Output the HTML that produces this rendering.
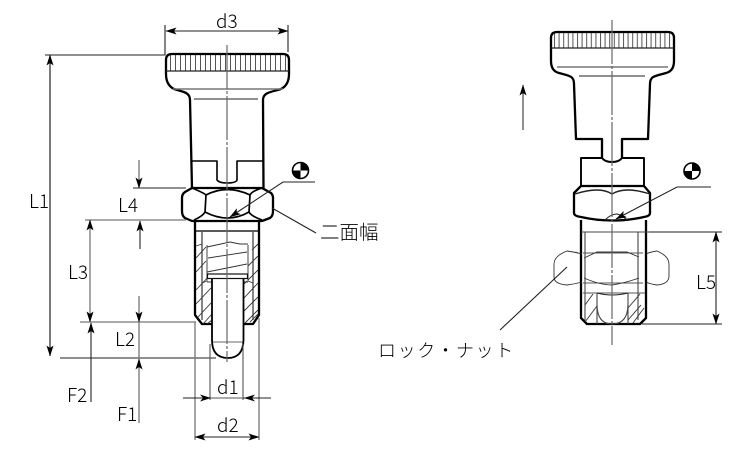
<!DOCTYPE html>
<html><head><meta charset="utf-8"><style>
html,body{margin:0;padding:0;background:#fff;width:750px;height:450px;overflow:hidden}
svg{display:block}
text{font-family:"Noto Sans CJK JP","Liberation Sans",sans-serif;font-size:19px;fill:#000;font-weight:300}
.k{fill:none;stroke:#000;stroke-width:2.3;stroke-linejoin:round}
.m{fill:none;stroke:#222;stroke-width:1.1}
.t{fill:none;stroke:#333;stroke-width:.9}
.g{fill:none;stroke:#777;stroke-width:1.3}
.c{fill:none;stroke:#666;stroke-width:1.2;stroke-dasharray:44 2 3 2}
.a{fill:#000;stroke:none}
</style></head><body>
<svg width="750" height="450" viewBox="0 0 750 450" xmlns="http://www.w3.org/2000/svg">
<defs>
<marker id="e" markerWidth="11" markerHeight="7" refX="10.5" refY="3.5" orient="auto-start-reverse" markerUnits="userSpaceOnUse"><path d="M0 0L11 3.5L0 7L2.5 3.5Z" fill="#000"/></marker>
<pattern id="kn" width="5" height="20" patternUnits="userSpaceOnUse"><rect x="0" width="1" height="20" fill="#555"/></pattern>
<pattern id="kn2" x="2" width="4.6" height="20" patternUnits="userSpaceOnUse"><rect x="0" width="1" height="20" fill="#555"/></pattern>
</defs>

<!-- LEFT VIEW -->
<rect x="167" y="55" width="121" height="16" fill="url(#kn)"/>
<path class="k" d="M172 54H283Q289 54 289 60V74Q289 85 281 89C272 92 263 92 263 100L263.500 188M172 54Q166 54 166 60V74Q166 85 174 89C183 92 190 92 190 100L192 188"/>
<path class="m" d="M166 71H289" style="stroke-width:1.300"/>
<path class="g" d="M173 89H283" style="stroke-width:1.400"/>
<path class="m" d="M194 99H258"/>
<path class="k" style="stroke-width:1.600" d="M192 161H217V180Q219 183 227 183Q236 183 237 180V161H263"/>
<!-- hex nut left -->
<path class="k" d="M192 188H262L271 193Q273 195 273 198V211Q273 216 270 218L262 221H192L185 218Q182 216 182 211V198Q182 194 185 192Z"/>
<path class="k" style="stroke-width:1.700" d="M192 188Q204 193 206 195L205 212Q203 216 194 220M262 188Q252 191 250 195L249 212Q251 216 262 220M206 195Q227 184 250 195M205 212Q228 224 249 212"/>
<!-- body left -->
<path class="k" d="M195 221V315L202 324H212M259 221V315L253 324H244"/>
<path class="m" d="M196 231H258" style="stroke-width:1.500"/>
<path class="m" d="M202 232V320M253 232V320"/>
<path class="t" d="M207 245V281L202 283M248 245V281L253 283M207 282H212M243 282H248"/>
<path class="t" d="M196 246L202 244M196 258L206 247M196 272L206 261M196 290L211 274M196 304L211 288M198 317L211 303M203 324L212 314M207 324L212 320M244 284L247 281M244 298L258 283M244 311L258 297M245 323L258 310M252 250L258 244M248 266L258 256M248 280L258 270M250 322L258 314"/>
<path class="t" d="M207 247L230 242L240 244L248 244M208 258L247 252M207 272L247 264"/>
<rect x="207.500" y="274" width="40" height="4.500" fill="#fff" stroke="#111" stroke-width="1.200"/>
<path class="k" d="M212 279V340Q212 358 228 358Q243 358 243.500 340V279" style="stroke-width:1.800"/>
<path class="t" d="M213 342H243" style="stroke-width:.8"/>
<path class="c" d="M227 45V362"/>
<!-- left dims -->
<path class="m" d="M165 25V55H45M288 25V52"/>
<path class="m" marker-start="url(#e)" marker-end="url(#e)" d="M166 31H288"/>
<path class="m" marker-start="url(#e)" marker-end="url(#e)" d="M50 55V356" style="stroke-width:1.200"/>
<path class="m" d="M60 358H216"/>
<path class="m" d="M133 188H186"/>
<path class="g" d="M85 220H186" />
<path class="g" d="M80 322H196"/>
<path class="g" marker-end="url(#e)" d="M139 160V188"/>
<path class="m" marker-end="url(#e)" d="M140 249V221"/>
<path class="g" marker-start="url(#e)" marker-end="url(#e)" d="M90 220V322"/>
<path class="g" marker-end="url(#e)" d="M139 296V322"/>
<path class="m" marker-end="url(#e)" d="M91 402V323"/>
<path class="g" d="M139 322V358"/>
<path class="g" marker-end="url(#e)" d="M139 423V359"/>
<path class="g" d="M195 322V440M259 318V440"/>
<path class="m" d="M210 344V400M243 344V400" style="stroke:#555"/>
<path class="g" d="M183 398H211M243 398H271" style="stroke:#222;stroke-width:1.100"/>
<path class="a" d="M211 398L200 394.500L203 398L200 401.500ZM244 398L255 394.500L252 398L255 401.500Z"/>
<path class="g" d="M211 398H243"/>
<path class="m" marker-start="url(#e)" marker-end="url(#e)" d="M195 437H259"/>
<text x="216" y="28">d3</text><text x="29" y="208">L1</text><text x="118" y="212">L4</text>
<text x="68" y="279">L3</text><text x="115" y="346">L2</text><text x="67" y="402">F2</text>
<text x="117" y="421">F1</text><text x="217" y="394">d1</text><text x="217" y="432">d2</text>
<!-- datum left -->
<circle cx="300.500" cy="170.500" r="8" fill="#fff" stroke="#000" stroke-width="1.600"/>
<path class="a" d="M300.500 162.500A8 8 0 0 1 308.500 170.500H300.500ZM300.500 170.500H292.500A8 8 0 0 0 300.500 178.500Z"/>
<path class="m" marker-end="url(#e)" d="M315 182H283L230 217"/>
<path class="m" d="M272 208L316 233"/>
<text x="320" y="239" style="font-size:19.500px">二面幅</text>

<!-- RIGHT VIEW -->
<rect x="552" y="33" width="121" height="15" fill="url(#kn2)"/>
<path class="k" d="M557 32H668Q674 32 674 38V61Q674 71 666 73C655 76 650 76 650 84L648 139H622V158M557 32Q551 32 551 38V61Q551 71 559 73C570 76 574 76 574 84L576 139H602V158"/>
<path class="m" d="M551 48H674" style="stroke-width:1.300"/>
<path class="g" d="M557 67H668" style="stroke-width:1.400"/>
<path class="m" d="M579 76H645"/>
<path class="k" style="stroke-width:1.900" d="M581 187V158H602Q605 162 612 162Q619 162 622 158H644V187"/>
<!-- nut right -->
<path class="k" d="M581 186H644L650 193V213Q650 216 644 217Q612 224 581 217Q574 216 574 213V193Z"/>
<path class="m" d="M575 194Q600 186 612 194Q625 186 650 194" style="stroke-width:1.400"/>
<path class="m" d="M605 220Q611 214 617 214Q622 215 627 220"/>
<!-- body right -->
<path class="k" d="M581 220V318L587 324H640L646 318V220"/>
<path class="m" d="M581 232H649M585 232V320M638 232V320" style="stroke:#444"/>
<path class="m" d="M583 253H643M583 283H643M583 293H645" style="stroke:#555"/>
<path class="t" d="M584 258L597 252H627L639 257M584 278Q600 285 612 285Q625 283 639 278"/>
<path class="t" d="M582 254Q575 252 567 251Q554 256 554 264V277Q554 284 567 285Q575 284 582 282M646 254Q650 252 657 251Q669 256 669 264V276Q669 284 657 285Q650 284 646 282"/>
<path class="m" d="M597 293V324M628 293V324M597 304Q597 324 612 324Q628 324 628 304" style="stroke:#444"/>
<path class="m" d="M597 293Q612 297 628 293"/>
<path class="t" d="M585 305L593 294M585 322L597 306M628 320L641 305M633 323L644 308M628 308L640 294"/>
<path class="c" d="M612 20V345"/>
<!-- right dims -->
<path class="m" marker-start="url(#e)" marker-end="url(#e)" d="M716 232V324"/>
<path class="m" d="M649 232H722M642 324H722"/>
<text x="696" y="289">L5</text>
<path class="m" marker-start="url(#e)" d="M523 85V130" style="stroke-width:1"/>
<path class="m" d="M500 330L567 267"/>
<text x="378" y="357" style="font-size:18px;letter-spacing:1.600px">ロック・ナット</text>
<circle cx="692" cy="171" r="8" fill="#fff" stroke="#000" stroke-width="1.600"/>
<path class="a" d="M692 163A8 8 0 0 1 700 171H692ZM692 171H684A8 8 0 0 0 692 179Z"/>
<path class="m" marker-end="url(#e)" d="M711 187H677L616 219"/>
</svg>
</body></html>
